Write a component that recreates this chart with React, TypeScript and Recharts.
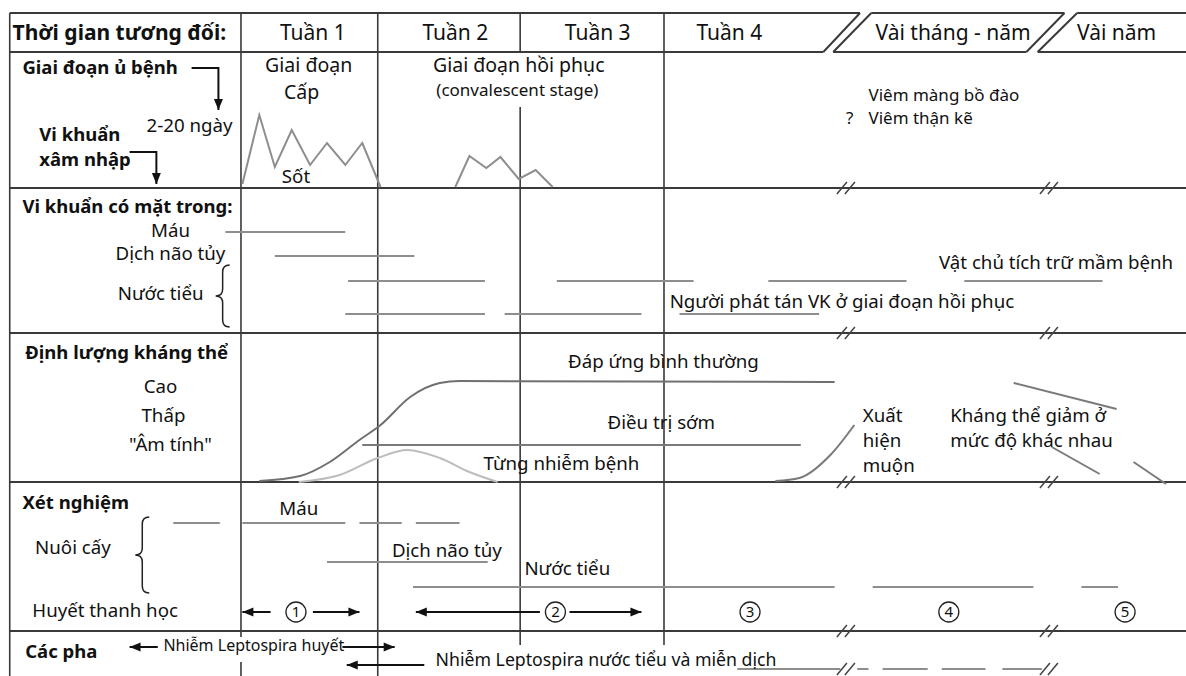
import React from 'react';
import { ComposedChart, Line, Scatter, XAxis, YAxis, ReferenceLine } from 'recharts';

// x = time since infection in weeks (0 = start of "Tuần 1"), y = vertical place in the table (top = 0)
const X_DOMAIN: [number, number] = [-1.709, 6.702];
const Y_DOMAIN: [number, number] = [0, 676];

const RULE = '#3a3a3a';
const GRAY = '#8e8e8e';
const INK = '#111';
const FONT = '"Noto Sans", "DejaVu Sans", sans-serif';

// ---- data ----
const acuteFever = [[0.01, 184], [0.13, 115], [0.24, 167], [0.36, 130], [0.49, 165], [0.61, 143], [0.74, 165], [0.86, 143], [0.99, 187]];
const relapseFever = [[1.52, 187], [1.62, 156], [1.74, 168], [1.84, 157], [1.97, 179], [2.09, 170], [2.21, 187]];

const presenceLanes = [
  { name: 'Máu', y: 232, spans: [[-0.11, 0.74]] },
  { name: 'Dịch não tủy', y: 256, spans: [[0.24, 1.23]] },
  { name: 'Nước tiểu - vật chủ', y: 281, spans: [[0.76, 1.73], [2.24, 3.21], [3.74, 4.72], [5.13, 6.11]] },
  { name: 'Nước tiểu - phát tán', y: 314, spans: [[0.74, 1.73], [1.87, 2.84], [3.11, 4.1]] },
];

const cultureLanes = [
  { name: 'Máu', y: 523, spans: [[-0.48, -0.15], [0.01, 0.74], [0.84, 1.14], [1.24, 1.55]] },
  { name: 'Dịch não tủy', y: 562, spans: [[0.61, 1.75]] },
  { name: 'Nước tiểu', y: 587, spans: [[1.22, 4.21], [4.48, 5.62], [5.96, 6.22]] },
];

const immunePhaseDashes = { y: 669, spans: [[3.52, 4.25], [4.37, 4.45], [4.55, 4.87], [4.97, 5.28], [5.4, 5.68]] };

const normalResponse = [[0.13, 481], [0.42, 476], [0.63, 462], [0.84, 440], [0.99, 425], [1.2, 397], [1.41, 383], [1.55, 381], [4.21, 382]];
const earlyTreatment = [[0.86, 445], [3.97, 445]];
const priorInfection = [[0.41, 482], [0.7, 475], [0.97, 458], [1.18, 450], [1.41, 458], [1.62, 472], [1.82, 482]];
const lateResponse = [[3.79, 481], [3.96, 478], [4.18, 455], [4.35, 425]];
const waning = [
  [[5.48, 383], [6.21, 409]],
  [[5.75, 447], [6.09, 474]],
  [[6.33, 462], [6.56, 484]],
];

const serologyWindows = ['1', '2', '3', '4', '5'];
const serologyWindowAt = [0.39, 2.23, 3.61, 5.02, 6.27];

const arrows = [
  { y: 612, x1: 0.01, x2: 0.21, head: 'start' },
  { y: 612, x1: 0.51, x2: 0.84, head: 'end' },
  { y: 612, x1: 1.24, x2: 2.12, head: 'start' },
  { y: 612, x1: 2.33, x2: 2.84, head: 'end' },
  { y: 647, x1: -0.79, x2: -0.59, head: 'start' },
  { y: 647, x1: 0.72, x2: 1.09, head: 'end' },
  { y: 665, x1: 0.75, x2: 1.3, head: 'start' },
];

const elbowArrows = [
  [[-0.35, 68], [-0.16, 68], [-0.16, 110]],
  [[-0.79, 152], [-0.6, 152], [-0.6, 184]],
];

const labels = [
  { text: 'Thời gian tương đối:', x: -1.62, y: 33, kind: 'headTitle' },
  { text: 'Tuần 1', x: 0.51, y: 33, kind: 'head', anchor: 'middle' },
  { text: 'Tuần 2', x: 1.52, y: 33, kind: 'head', anchor: 'middle' },
  { text: 'Tuần 3', x: 2.53, y: 33, kind: 'head', anchor: 'middle' },
  { text: 'Tuần 4', x: 3.23, y: 33, kind: 'head' },
  { text: 'Vài tháng - năm', x: 5.05, y: 33, kind: 'head', anchor: 'middle' },
  { text: 'Vài năm', x: 6.21, y: 33, kind: 'head', anchor: 'middle' },

  { text: 'Giai đoạn ủ bệnh', x: -1.55, y: 68, kind: 'title' },
  { text: '2-20 ngày', x: -0.67, y: 125, kind: 'body' },
  { text: 'Vi khuẩn', x: -1.43, y: 135, kind: 'title' },
  { text: 'xâm nhập', x: -1.43, y: 160, kind: 'title' },
  { text: 'Giai đoạn', x: 0.48, y: 65, kind: 'stage', anchor: 'middle' },
  { text: 'Cấp', x: 0.43, y: 92, kind: 'stage', anchor: 'middle' },
  { text: 'Giai đoạn hồi phục', x: 1.97, y: 65, kind: 'stage', anchor: 'middle' },
  { text: '(convalescent stage)', x: 1.96, y: 90, kind: 'note', anchor: 'middle' },
  { text: 'Sốt', x: 0.29, y: 176, kind: 'body' },
  { text: 'Viêm màng bồ đào', x: 4.45, y: 95, kind: 'note' },
  { text: '?', x: 4.29, y: 118, kind: 'note' },
  { text: 'Viêm thận kẽ', x: 4.45, y: 118, kind: 'note' },

  { text: 'Vi khuẩn có mặt trong:', x: -1.55, y: 207, kind: 'title' },
  { text: 'Máu', x: -0.5, y: 230, kind: 'body', anchor: 'middle' },
  { text: 'Dịch não tủy', x: -0.5, y: 253, kind: 'body', anchor: 'middle' },
  { text: 'Nước tiểu', x: -0.57, y: 293, kind: 'body', anchor: 'middle' },
  { text: 'Vật chủ tích trữ mầm bệnh', x: 4.95, y: 262, kind: 'body' },
  { text: 'Người phát tán VK ở giai đoạn hồi phục', x: 3.04, y: 301, kind: 'body' },

  { text: 'Định lượng kháng thể', x: -1.53, y: 353, kind: 'title' },
  { text: 'Cao', x: -0.57, y: 386, kind: 'body', anchor: 'middle' },
  { text: 'Thấp', x: -0.55, y: 415, kind: 'body', anchor: 'middle' },
  { text: '"Âm tính"', x: -0.5, y: 444, kind: 'body', anchor: 'middle' },
  { text: 'Đáp ứng bình thường', x: 2.32, y: 361, kind: 'body' },
  { text: 'Điều trị sớm', x: 2.6, y: 422, kind: 'body' },
  { text: 'Từng nhiễm bệnh', x: 1.72, y: 463, kind: 'body' },
  { text: 'Xuất', x: 4.41, y: 415, kind: 'body' },
  { text: 'hiện', x: 4.41, y: 440, kind: 'body' },
  { text: 'muộn', x: 4.41, y: 465, kind: 'body' },
  { text: 'Kháng thể giảm ở', x: 5.03, y: 415, kind: 'body' },
  { text: 'mức độ khác nhau', x: 5.03, y: 440, kind: 'body' },

  { text: 'Xét nghiệm', x: -1.55, y: 503, kind: 'title' },
  { text: 'Máu', x: 0.41, y: 508, kind: 'body', anchor: 'middle' },
  { text: 'Nuôi cấy', x: -1.46, y: 547, kind: 'body' },
  { text: 'Dịch não tủy', x: 1.46, y: 550, kind: 'body', anchor: 'middle' },
  { text: 'Nước tiểu', x: 2.01, y: 568, kind: 'body' },
  { text: 'Huyết thanh học', x: -1.48, y: 610, kind: 'body' },

  { text: 'Các pha', x: -1.53, y: 652, kind: 'title' },
  { text: 'Nhiễm Leptospira huyết', x: -0.55, y: 645, kind: 'phase' },
  { text: 'Nhiễm Leptospira nước tiểu và miễn dịch', x: 1.38, y: 660, kind: 'phase2' },
];

// ---- table layout ----
const LEFT = -1.64;
const RIGHT = 6.702;
const rowRules = [188, 333, 482, 631];
const breakAt = [4.29, 5.73];
const breakRows = [188, 333, 482, 631, 669];
const columnRules = [
  [LEFT, 13, 676],
  [0, 13, 637], [0, 662, 676],
  [0.97, 13, 676],
  [1.98, 13, 52], [1.98, 107, 645],
  [3.0, 13, 645],
];
const headerRules = [
  [[LEFT, 13], [4.39, 13]], [[4.47, 13], [5.84, 13]], [[5.93, 13], [RIGHT, 13]],
  [[LEFT, 52], [4.13, 52]], [[4.2, 52], [5.57, 52]], [[5.65, 52], [RIGHT, 52]],
  [[4.13, 52], [4.39, 13]], [[4.2, 52], [4.47, 13]],
  [[5.57, 52], [5.84, 13]], [[5.65, 52], [5.93, 13]],
];
const braces = [
  { x: -0.13, y: 296, span: 62 },
  { x: -0.7, y: 555, span: 76 },
];

const TEXT_STYLE: Record<string, { size: number; weight: number }> = {
  headTitle: { size: 21, weight: 700 },
  head: { size: 21, weight: 400 },
  stage: { size: 19.5, weight: 400 },
  title: { size: 18.5, weight: 700 },
  body: { size: 18.7, weight: 400 },
  note: { size: 17, weight: 400 },
  phase: { size: 16, weight: 400 },
  phase2: { size: 17.7, weight: 400 },
};

const pts = (arr: number[][]) => arr.map(([x, y]) => ({ x, y }));

const arrowTips = [
  ...arrows.map((a) => (a.head === 'start' ? { x: a.x1, y: a.y, dir: 'left' } : { x: a.x2, y: a.y, dir: 'right' })),
  ...elbowArrows.map((e) => ({ x: e[2][0], y: e[2][1], dir: 'down' })),
];
const breakMarks = breakRows.flatMap((y) => breakAt.map((x) => ({ x, y })));
const circles = serologyWindows.map((n, i) => ({ n, x: serologyWindowAt[i], y: 612 }));

const TextMark = (p: any) => {
  const d = p.payload;
  const s = TEXT_STYLE[d.kind];
  return (
    <text x={p.cx} y={p.cy} dy="0.35em" textAnchor={d.anchor || 'start'} fontSize={s.size} fontWeight={s.weight} fill={INK} fontFamily={FONT}>
      {d.text}
    </text>
  );
};

const TipMark = (p: any) => {
  const { cx, cy } = p;
  const dir = p.payload.dir;
  let tri = '';
  if (dir === 'left') tri = `${cx},${cy} ${cx + 11},${cy - 4.5} ${cx + 11},${cy + 4.5}`;
  else if (dir === 'right') tri = `${cx},${cy} ${cx - 11},${cy - 4.5} ${cx - 11},${cy + 4.5}`;
  else tri = `${cx},${cy} ${cx - 4.5},${cy - 11} ${cx + 4.5},${cy - 11}`;
  return <polygon points={tri} fill={INK} />;
};

const BreakMark = (p: any) => {
  const { cx, cy } = p;
  return (
    <g stroke="#444" strokeWidth={1.5}>
      <line x1={cx - 9} y1={cy + 6} x2={cx + 1} y2={cy - 6} />
      <line x1={cx - 1} y1={cy + 6} x2={cx + 9} y2={cy - 6} />
    </g>
  );
};

const BraceMark = (p: any) => {
  const { cx, cy } = p;
  const h = p.payload.span;
  const top = cy - h / 2;
  const bot = cy + h / 2;
  const w = 7;
  const r = 7;
  const d = `M ${cx + w} ${top} Q ${cx} ${top} ${cx} ${top + r} L ${cx} ${cy - r} Q ${cx} ${cy} ${cx - w} ${cy} Q ${cx} ${cy} ${cx} ${cy + r} L ${cx} ${bot - r} Q ${cx} ${bot} ${cx + w} ${bot}`;
  return <path d={d} fill="none" stroke="#222" strokeWidth={1.5} />;
};

const CircleMark = (p: any) => {
  const { cx, cy } = p;
  return (
    <g>
      <circle cx={cx} cy={cy} r={10} fill="#fff" stroke="#222" strokeWidth={1.3} />
      <text x={cx} y={cy} dy="0.36em" textAnchor="middle" fontSize={15} fill={INK} fontFamily={FONT}>
        {p.payload.n}
      </text>
    </g>
  );
};

const seg = (key: string, data: { x: number; y: number }[], stroke: string, width = 2, type: any = 'linear') => (
  <Line
    key={key}
    data={data}
    dataKey="y"
    type={type}
    stroke={stroke}
    strokeWidth={width}
    dot={false}
    activeDot={false}
    isAnimationActive={false}
  />
);

export default function App() {
  return (
    <div style={{ position: 'absolute', left: 0, top: 0, width: 1186, height: 676, background: '#fff', fontFamily: FONT }}>
      <ComposedChart width={1186} height={676} margin={{ top: 0, right: 0, bottom: 0, left: 0 }}>
        <XAxis type="number" dataKey="x" domain={X_DOMAIN} allowDataOverflow hide />
        <YAxis type="number" dataKey="y" domain={Y_DOMAIN} allowDataOverflow reversed hide />

        {rowRules.map((y) => (
          <ReferenceLine key={`r${y}`} segment={[{ x: LEFT, y }, { x: RIGHT, y }]} stroke={RULE} strokeWidth={2} ifOverflow="visible" />
        ))}
        {columnRules.map(([x, y1, y2], i) => (
          <ReferenceLine key={`c${i}`} segment={[{ x, y: y1 }, { x, y: y2 }]} stroke={RULE} strokeWidth={1.6} ifOverflow="visible" />
        ))}
        {headerRules.map(([a, b], i) => (
          <ReferenceLine key={`h${i}`} segment={[{ x: a[0], y: a[1] }, { x: b[0], y: b[1] }]} stroke={RULE} strokeWidth={2} ifOverflow="visible" />
        ))}

        {seg('fever1', pts(acuteFever), GRAY)}
        {seg('fever2', pts(relapseFever), GRAY)}

        {[...presenceLanes, ...cultureLanes, immunePhaseDashes].flatMap((lane, i) =>
          lane.spans.map(([a, b], j) => seg(`l${i}-${j}`, [{ x: a, y: lane.y }, { x: b, y: lane.y }], GRAY)),
        )}

        {seg('normal', pts(normalResponse), '#707070', 2, 'monotone')}
        {seg('early', pts(earlyTreatment), '#7a7a7a')}
        {seg('prior', pts(priorInfection), '#bdbdbd', 2, 'monotone')}
        {seg('late', pts(lateResponse), '#7a7a7a', 2, 'monotone')}
        {waning.map((w, i) => seg(`w${i}`, pts(w), '#7a7a7a'))}

        {arrows.map((a, i) => seg(`a${i}`, [{ x: a.x1, y: a.y }, { x: a.x2, y: a.y }], INK, 2))}
        {elbowArrows.map((e, i) => seg(`e${i}`, pts(e), INK, 2))}

        <Scatter data={arrowTips} shape={TipMark} isAnimationActive={false} />
        <Scatter data={breakMarks} shape={BreakMark} isAnimationActive={false} />
        <Scatter data={braces} shape={BraceMark} isAnimationActive={false} />
        <Scatter data={circles} shape={CircleMark} isAnimationActive={false} />
        <Scatter data={labels} shape={TextMark} isAnimationActive={false} />
      </ComposedChart>
    </div>
  );
}
